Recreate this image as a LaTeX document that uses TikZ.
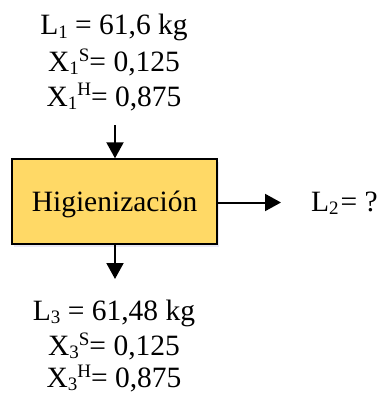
\documentclass[tikz,border=0pt]{standalone}
\usepackage{fontspec}
\setmainfont{Liberation Serif}
\usetikzlibrary{arrows.meta,shadows}
\definecolor{boxfill}{HTML}{FFD966}
\newcommand{\mysb}[1]{\raisebox{-3pt}{\fontsize{19}{19}\selectfont #1}}
\newcommand{\mysp}[1]{\raisebox{10pt}{\fontsize{19}{19}\selectfont #1}}
\tikzset{
  txt/.style={anchor=base, inner sep=0pt, font=\fontsize{29.5}{32}\selectfont},
  procbox/.style={draw=black, line width=1.4pt, fill=boxfill, minimum width=205pt, minimum height=85pt, inner sep=0pt,
    drop shadow={shadow xshift=2pt, shadow yshift=-3pt, opacity=0.12, fill=blue!40!gray}},
  flow/.style={line width=2pt, -{Triangle[length=16pt,width=17pt]}}
}
\begin{document}
\begin{tikzpicture}[x=1pt,y=-1pt]
\useasboundingbox (0,0) rectangle (383,396);
\node[txt] (t1) at (114,35) {L\mysb{1} = 61,6 kg};
\node[txt] (t2) at (114,71.5) {X\mysb{1}\mysp{S}= 0,125};
\node[txt] (t3) at (114,106) {X\mysb{1}\mysp{H}= 0,875};
\coordinate (inTop) at (115,125);
\node[procbox] (box) at (114.5,201.5) {};
\node[txt] (lbl) at (114.5,211.7) {Higienización};
\node[txt, anchor=base west] (l2) at (311,211.7) {L\mysb{2}{\kern2pt}= ?};
\coordinate (outR) at (281,202.5);
\coordinate (outB) at (115,279);
\draw[flow] (inTop) -- (inTop |- box.north);
\draw[flow] (box.east |- outR) -- (outR);
\draw[flow] (box.south -| outB) -- (outB);
\node[txt] (b1) at (114,320) {L\mysb{3} = 61,48 kg};
\node[txt] (b2) at (114,355) {X\mysb{3}\mysp{S}= 0,125};
\node[txt] (b3) at (114,387.5) {X\mysb{3}\mysp{H}= 0,875};
\end{tikzpicture}
\end{document}
